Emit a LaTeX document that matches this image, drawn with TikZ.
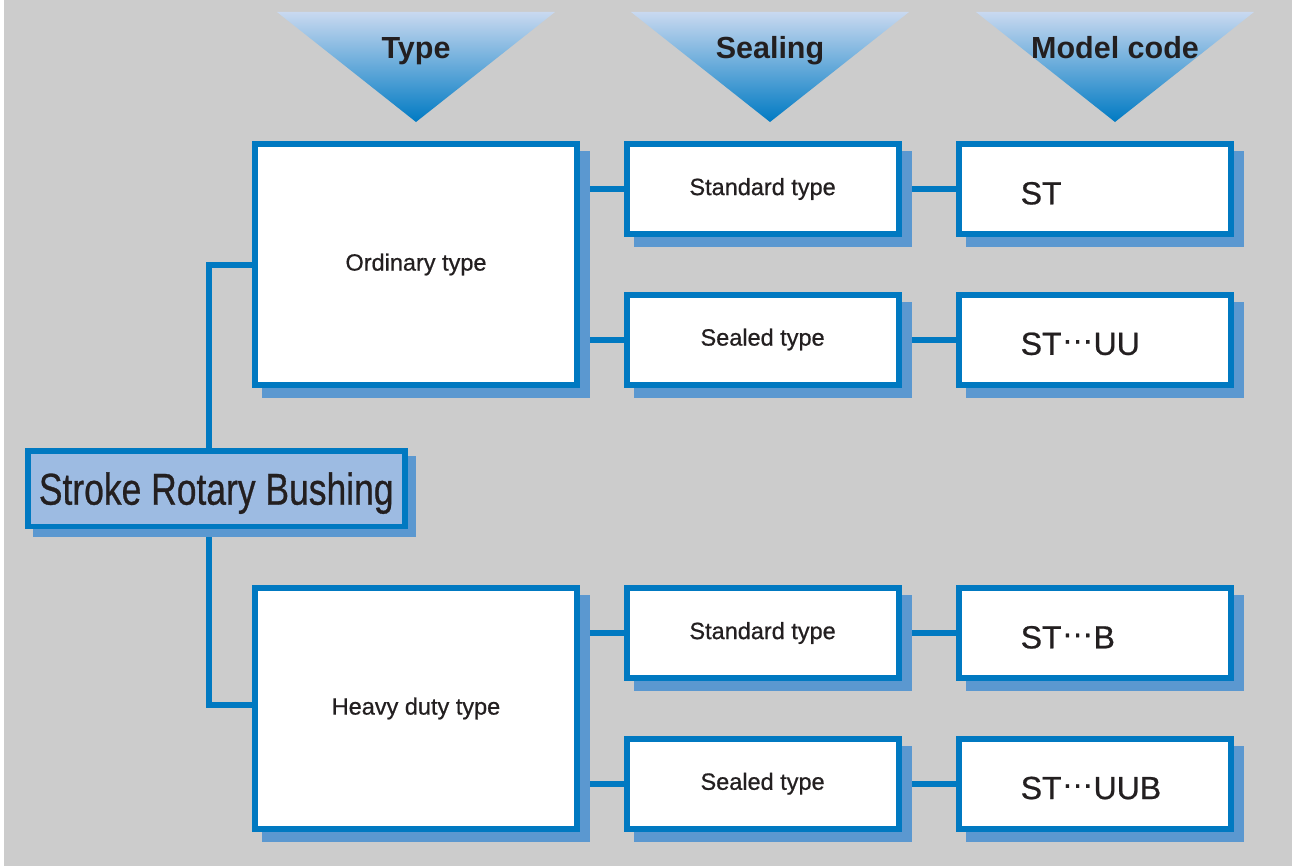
\documentclass[tikz,border=0pt]{standalone}
\usepackage{fontspec}
\setmainfont{Liberation Sans}
\newfontfamily\medsans[FakeBold=0.7]{Liberation Sans}
\usetikzlibrary{backgrounds}

\definecolor{paper}{HTML}{CCCCCC}
\definecolor{rimblue}{HTML}{0079C1}
\definecolor{shadeblue}{HTML}{5B98D0}
\definecolor{rootfill}{HTML}{9DBBE2}
\definecolor{fadetop}{HTML}{C9D9F0}
\definecolor{fadebot}{HTML}{007AC3}
\definecolor{ink}{HTML}{231F20}

\newcommand{\mdots}{\raisebox{0.35em}{…}}

\tikzset{
    box/.style={draw=rimblue, line width=6pt, fill=white, inner sep=0pt, text=ink},
    bigbox/.style={box, minimum width=322pt, minimum height=241pt, font=\medsans\fontsize{23.5}{28}\selectfont},
    sealbox/.style={box, minimum width=272pt, minimum height=90pt, font=\medsans\fontsize{23.5}{28}\selectfont},
    codebox/.style={box, text width=148pt, inner xsep=62pt, minimum height=90pt, align=left, text height=31pt, font=\medsans\fontsize{32}{38}\selectfont},
    rootbox/.style={box, fill=rootfill, line width=5.5pt, minimum width=377pt, minimum height=75.5pt, text depth=0pt, font=\medsans},
    link/.style={draw=rimblue, line width=6pt},
    headtext/.style={font=\bfseries\fontsize{30.5}{36}\selectfont, text=ink, anchor=base}
}

\begin{document}
\begin{tikzpicture}[x=1pt, y=-1pt]
\useasboundingbox (0,0) rectangle (1292,867);

% Header triangles
\foreach \cx/\nm/\txt in {416/hType/Type, 770/hSeal/Sealing, 1115/hCode/Model code}
{
\shade[top color=fadetop, bottom color=fadebot] (\cx-139,12) -- (\cx+139,12) -- (\cx,122) -- cycle;
\node[headtext] (\nm) at (\cx,59) {\txt};
}

% Root
\node[rootbox] (root) at (216.25,488.5) {\scalebox{0.795}[1]{\fontsize{44.6}{50}\selectfont Stroke Rotary Bushing}};

% Type
\node[bigbox] (ord) at (416,264.5) {Ordinary type};
\node[bigbox] (heavy) at (416,708.5) {Heavy duty type};

% Sealing
\node[sealbox] (os) at (762.6,189) {Standard type};
\node[sealbox] (ou) at (762.6,339.5) {Sealed type};
\node[sealbox] (hs) at (762.6,633) {Standard type};
\node[sealbox] (hu) at (762.6,783.7) {Sealed type};

% Model code
\node[codebox] (cST) at (1094.7,189) {ST};
\node[codebox] (cUU) at (1094.7,339.5) {ST\mdots UU};
\node[codebox] (cB) at (1094.7,633) {ST\mdots B};
\node[codebox] (cUUB) at (1094.7,783.7) {ST\mdots UUB};

\begin{scope}[on background layer]
\fill[white] (0,0) rectangle (1292,867);
\fill[paper] (4,0) rectangle (1292,866);

% Connectors
\draw[link] ([xshift=-7pt]root.north) |- (ord.west);
\draw[link] ([xshift=-7pt]root.south) |- ([yshift=4pt]heavy.west);
\foreach \a/\b in {ord/os, ord/ou, heavy/hs, heavy/hu}
\draw[link] (\b.west -| \a.east) -- (\b.west);
\foreach \a/\b in {os/cST, ou/cUU, hs/cB, hu/cUUB}
\draw[link] (\a.east) -- (\b.west);

% Shadows
\foreach \n in {ord, heavy, os, ou, hs, hu, cST, cUU, cB, cUUB}
\fill[shadeblue] ([shift={(10pt,-10pt)}]\n.north west) rectangle ([shift={(10pt,-10pt)}]\n.south east);
\fill[shadeblue] ([shift={(8pt,-8pt)}]root.north west) rectangle ([shift={(8pt,-8pt)}]root.south east);
\end{scope}

\end{tikzpicture}
\end{document}
